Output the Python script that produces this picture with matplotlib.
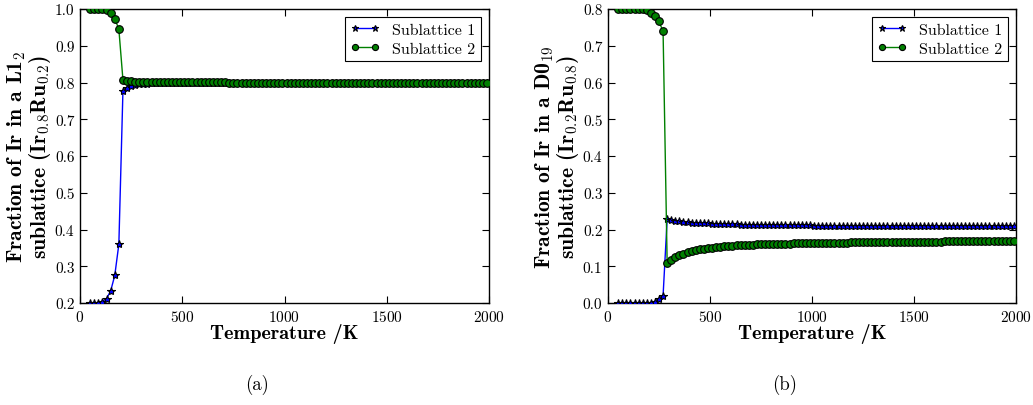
import matplotlib
matplotlib.use("Agg")
import matplotlib.pyplot as plt

plt.rcParams['font.family'] = 'serif'
plt.rcParams['font.serif'] = ['cmr10']
plt.rcParams['mathtext.fontset'] = 'cm'
plt.rcParams['axes.formatter.use_mathtext'] = True

temperature = [50, 70, 90, 110, 130, 150, 170, 190, 210, 230,
               250, 270, 290, 310, 330, 350, 370, 390, 410, 430,
               450, 470, 490, 510, 530, 550, 570, 590, 610, 630,
               650, 670, 690, 710, 730, 750, 770, 790, 810, 830,
               850, 870, 890, 910, 930, 950, 970, 990, 1010, 1030,
               1050, 1070, 1090, 1110, 1130, 1150, 1170, 1190, 1210, 1230,
               1250, 1270, 1290, 1310, 1330, 1350, 1370, 1390, 1410, 1430,
               1450, 1470, 1490, 1510, 1530, 1550, 1570, 1590, 1610, 1630,
               1650, 1670, 1690, 1710, 1730, 1750, 1770, 1790, 1810, 1830,
               1850, 1870, 1890, 1910, 1930, 1950, 1970, 1990]

l12_sub1 = [0.200, 0.200, 0.201, 0.204, 0.212, 0.233, 0.275, 0.360, 0.778, 0.786,
            0.790, 0.793, 0.795, 0.796, 0.797, 0.7975, 0.798, 0.7984, 0.7987, 0.7990,
            0.7992, 0.7993, 0.7994, 0.7995, 0.7996, 0.7996, 0.7997, 0.7997, 0.7998, 0.7998,
            0.7998, 0.7998, 0.7998, 0.7999, 0.7999, 0.7999, 0.7999, 0.7999, 0.7999, 0.7999,
            0.8000, 0.8000, 0.8000, 0.8000, 0.8000, 0.8000, 0.8000, 0.8000, 0.8000, 0.8000,
            0.8000, 0.8000, 0.8000, 0.8000, 0.8000, 0.8000, 0.8000, 0.8000, 0.8000, 0.8000,
            0.8000, 0.8000, 0.8000, 0.8000, 0.8000, 0.8000, 0.8000, 0.8000, 0.8000, 0.8000,
            0.8000, 0.8000, 0.8000, 0.8000, 0.8000, 0.8000, 0.8000, 0.8000, 0.8000, 0.8000,
            0.8000, 0.8000, 0.8000, 0.8000, 0.8000, 0.8000, 0.8000, 0.8000, 0.8000, 0.8000,
            0.8000, 0.8000, 0.8000, 0.8000, 0.8000, 0.8000, 0.8000, 0.8000]

l12_sub2 = [1.000, 1.000, 0.9998, 0.999, 0.997, 0.988, 0.974, 0.945, 0.807, 0.8045,
            0.803, 0.802, 0.8015, 0.801, 0.8008, 0.8006, 0.8005, 0.8004, 0.8003, 0.8003,
            0.8002, 0.8002, 0.8002, 0.8002, 0.8002, 0.8001, 0.8001, 0.8001, 0.8001, 0.8001,
            0.8001, 0.8001, 0.8001, 0.8001, 0.8000, 0.8000, 0.8000, 0.8000, 0.8000, 0.8000,
            0.8000, 0.8000, 0.8000, 0.8000, 0.8000, 0.8000, 0.8000, 0.8000, 0.8000, 0.8000,
            0.8000, 0.8000, 0.8000, 0.8000, 0.8000, 0.8000, 0.8000, 0.8000, 0.8000, 0.8000,
            0.8000, 0.8000, 0.8000, 0.8000, 0.8000, 0.8000, 0.8000, 0.8000, 0.8000, 0.8000,
            0.8000, 0.8000, 0.8000, 0.8000, 0.8000, 0.8000, 0.8000, 0.8000, 0.8000, 0.8000,
            0.8000, 0.8000, 0.8000, 0.8000, 0.8000, 0.8000, 0.8000, 0.8000, 0.8000, 0.8000,
            0.8000, 0.8000, 0.8000, 0.8000, 0.8000, 0.8000, 0.8000, 0.8000]

d019_sub1 = [0.000, 0.000, 0.000, 0.000, 0.000, 0.000, 0.000, 0.000, 0.001, 0.004,
             0.010, 0.020, 0.228, 0.2255, 0.2235, 0.2222, 0.2210, 0.2200, 0.2190, 0.2182,
             0.2175, 0.2170, 0.2165, 0.2160, 0.2156, 0.2152, 0.2148, 0.2145, 0.2142, 0.2139,
             0.2136, 0.2134, 0.2131, 0.2129, 0.2127, 0.2125, 0.2123, 0.2121, 0.2120, 0.2118,
             0.2117, 0.2115, 0.2114, 0.2113, 0.2112, 0.2111, 0.2110, 0.2109, 0.2108, 0.2107,
             0.2106, 0.2106, 0.2105, 0.2104, 0.2104, 0.2103, 0.2102, 0.2102, 0.2101, 0.2101,
             0.2100, 0.2100, 0.2099, 0.2099, 0.2099, 0.2098, 0.2098, 0.2097, 0.2097, 0.2097,
             0.2096, 0.2096, 0.2096, 0.2095, 0.2095, 0.2095, 0.2095, 0.2094, 0.2094, 0.2094,
             0.2094, 0.2094, 0.2093, 0.2093, 0.2093, 0.2093, 0.2093, 0.2092, 0.2092, 0.2092,
             0.2092, 0.2092, 0.2092, 0.2091, 0.2091, 0.2091, 0.2091, 0.2091]

d019_sub2 = [0.800, 0.800, 0.800, 0.800, 0.800, 0.800, 0.800, 0.797, 0.789, 0.782,
             0.766, 0.739, 0.108, 0.117, 0.124, 0.130, 0.134, 0.138, 0.141, 0.1435,
             0.1458, 0.1478, 0.1495, 0.1510, 0.1523, 0.1535, 0.1545, 0.1554, 0.1562, 0.1569,
             0.1575, 0.1580, 0.1585, 0.1590, 0.1594, 0.1598, 0.1602, 0.1605, 0.1608, 0.1611,
             0.1614, 0.1617, 0.1619, 0.1622, 0.1624, 0.1626, 0.1628, 0.1630, 0.1632, 0.1634,
             0.1636, 0.1638, 0.1640, 0.1641, 0.1643, 0.1645, 0.1646, 0.1648, 0.1649, 0.1651,
             0.1652, 0.1654, 0.1655, 0.1656, 0.1658, 0.1659, 0.1660, 0.1661, 0.1662, 0.1663,
             0.1664, 0.1665, 0.1666, 0.1667, 0.1668, 0.1669, 0.1670, 0.1671, 0.1672, 0.1673,
             0.1674, 0.1675, 0.1676, 0.1677, 0.1677, 0.1678, 0.1679, 0.1680, 0.1681, 0.1682,
             0.1682, 0.1683, 0.1684, 0.1684, 0.1685, 0.1686, 0.1686, 0.1687]

series_labels = ["Sublattice 1", "Sublattice 2"]
xticks = [0, 500, 1000, 1500, 2000]
ylabel_a = "Fraction of Ir in a L1$_\\mathbf{2}$\nsublattice (Ir$_\\mathbf{0.8}$Ru$_\\mathbf{0.2}$)"
ylabel_b = "Fraction of Ir in a D0$_\\mathbf{19}$\nsublattice (Ir$_\\mathbf{0.2}$Ru$_\\mathbf{0.8}$)"
xlabel = "Temperature /K"
captions = ["(a)", "(b)"]

W, H = 1033, 406
fig = plt.figure(figsize=(W / 100, H / 100), dpi=100)
ax_a = fig.add_axes([80 / W, 1 - 304 / H, 409 / W, 294 / H])
ax_b = fig.add_axes([608 / W, 1 - 304 / H, 408 / W, 294 / H])

panels = [
    (ax_a, l12_sub1, l12_sub2, (0.2, 1.0), [0.2, 0.3, 0.4, 0.5, 0.6, 0.7, 0.8, 0.9, 1.0], ylabel_a),
    (ax_b, d019_sub1, d019_sub2, (0.0, 0.8), [0.0, 0.1, 0.2, 0.3, 0.4, 0.5, 0.6, 0.7, 0.8], ylabel_b),
]

for ax, s1, s2, ylim, yticks, ylab in panels:
    ax.plot(temperature, s1, color='b', lw=1.0, marker='*', ms=6,
            mec='k', mfc='b', mew=0.8, label=series_labels[0], zorder=3)
    ax.plot(temperature, s2, color='g', lw=1.0, marker='o', ms=5.5,
            mec='k', mfc='g', mew=0.8, label=series_labels[1], zorder=4)
    ax.set_xlim(0, 2000)
    ax.set_ylim(*ylim)
    ax.set_xticks(xticks)
    ax.set_yticks(yticks)
    ax.set_yticklabels([f"{v:.1f}" for v in yticks])
    ax.tick_params(direction='in', top=True, right=True, labelsize=11, length=5, pad=4)
    ax.set_xlabel(xlabel, family='cmb10', fontsize=14.5, labelpad=-0.5)
    ax.set_ylabel(ylab, family='cmb10', fontsize=15.5, labelpad=1.0, linespacing=0.95)
    for sp in ax.spines.values():
        sp.set_linewidth(1.0)
    leg = ax.legend(loc='upper right', numpoints=2, fontsize=11.5, fancybox=False,
                    framealpha=1, edgecolor='k', handlelength=1.8, borderpad=0.35,
                    labelspacing=0.3, handletextpad=0.8, markerscale=0.8)
    leg.get_frame().set_linewidth(0.8)

fig.text(257 / W, 1 - 385 / H, captions[0], ha='center', va='center', fontsize=13.5)
fig.text(785 / W, 1 - 385 / H, captions[1], ha='center', va='center', fontsize=13.5)

fig.savefig("out.png", dpi=100, facecolor='white')
